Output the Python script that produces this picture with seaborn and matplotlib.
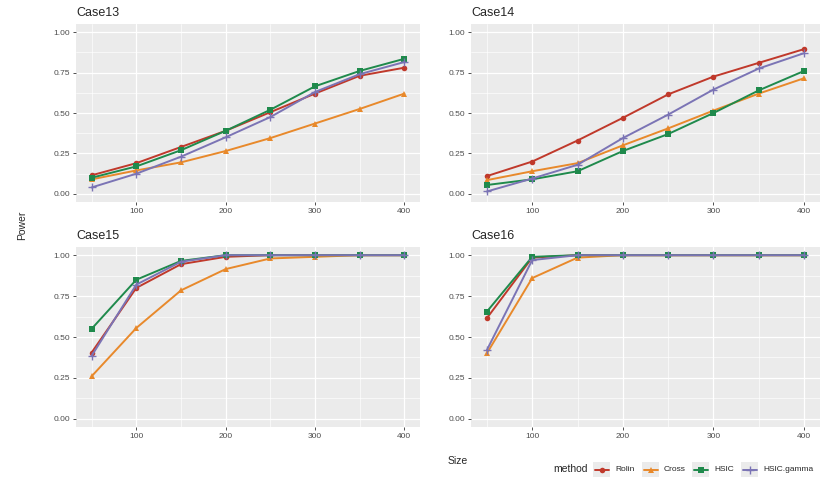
import pandas as pd
import matplotlib.pyplot as plt
import seaborn as sns
from matplotlib.patches import Rectangle
from matplotlib.lines import Line2D

# ----------------------------------------------------------------------------------------------
# Data
# ----------------------------------------------------------------------------------------------
sizes = [50, 100, 150, 200, 250, 300, 350, 400]
methods = ["Rolin", "Cross", "HSIC", "HSIC.gamma"]
cases = ["Case13", "Case14", "Case15", "Case16"]

case13_rolin = [0.115, 0.19, 0.29, 0.39, 0.505, 0.62, 0.73, 0.78]
case13_cross = [0.09, 0.145, 0.195, 0.265, 0.345, 0.435, 0.525, 0.62]
case13_hsic = [0.10, 0.17, 0.27, 0.39, 0.52, 0.665, 0.76, 0.835]
case13_gamma = [0.04, 0.125, 0.23, 0.35, 0.475, 0.63, 0.74, 0.815]

case14_rolin = [0.11, 0.20, 0.33, 0.47, 0.615, 0.725, 0.81, 0.895]
case14_cross = [0.085, 0.14, 0.19, 0.30, 0.405, 0.515, 0.62, 0.715]
case14_hsic = [0.055, 0.09, 0.14, 0.265, 0.37, 0.50, 0.64, 0.76]
case14_gamma = [0.015, 0.095, 0.18, 0.345, 0.49, 0.645, 0.775, 0.87]

case15_rolin = [0.405, 0.80, 0.945, 0.99, 1.0, 1.0, 1.0, 1.0]
case15_cross = [0.26, 0.555, 0.785, 0.915, 0.98, 0.99, 1.0, 1.0]
case15_hsic = [0.55, 0.85, 0.965, 1.0, 1.0, 1.0, 1.0, 1.0]
case15_gamma = [0.385, 0.82, 0.96, 1.0, 1.0, 1.0, 1.0, 1.0]

case16_rolin = [0.615, 0.985, 1.0, 1.0, 1.0, 1.0, 1.0, 1.0]
case16_cross = [0.40, 0.86, 0.985, 1.0, 1.0, 1.0, 1.0, 1.0]
case16_hsic = [0.655, 0.99, 1.0, 1.0, 1.0, 1.0, 1.0, 1.0]
case16_gamma = [0.42, 0.97, 1.0, 1.0, 1.0, 1.0, 1.0, 1.0]

power = {
    "Case13": [case13_rolin, case13_cross, case13_hsic, case13_gamma],
    "Case14": [case14_rolin, case14_cross, case14_hsic, case14_gamma],
    "Case15": [case15_rolin, case15_cross, case15_hsic, case15_gamma],
    "Case16": [case16_rolin, case16_cross, case16_hsic, case16_gamma],
}

rows = []
for case in cases:
    for m, vals in zip(methods, power[case]):
        for s, v in zip(sizes, vals):
            rows.append({"case": case, "method": m, "Size": s, "Power": v})
df = pd.DataFrame(rows)

colors = {"Rolin": "#C0392B", "Cross": "#E8892B", "HSIC": "#1F8A4C", "HSIC.gamma": "#7B74B5"}
markers = {"Rolin": "o", "Cross": "^", "HSIC": "s", "HSIC.gamma": "+"}

# ----------------------------------------------------------------------------------------------
# Figure (ggplot-like facets)
# ----------------------------------------------------------------------------------------------
sns.set_style("white")
plt.rcParams["font.family"] = ["Liberation Sans", "DejaVu Sans"]

W, H = 830, 490
fig = plt.figure(figsize=(W / 100, H / 100), dpi=100)

boxes = [(76, 420, 24, 202), (471, 820, 24, 202), (76, 420, 247, 427), (471, 820, 247, 427)]

for case, (l, r, t, b) in zip(cases, boxes):
    ax = fig.add_axes([l / W, 1 - b / H, (r - l) / W, (b - t) / H])
    ax.set_facecolor("#EBEBEB")
    ax.set_axisbelow(True)
    sub = df[df["case"] == case]
    for m in methods:
        d = sub[sub["method"] == m]
        mk = markers[m]
        sns.lineplot(data=d, x="Size", y="Power", color=colors[m], marker=mk,
                     markersize=4 if mk != "+" else 6, markeredgewidth=1 if mk == "+" else 0,
                     markeredgecolor=colors[m], linewidth=1.4, ax=ax, legend=False)
    ax.set_xlim(32.5, 417.5)
    ax.set_ylim(-0.05, 1.05)
    ax.set_xticks([100, 200, 300, 400])
    ax.set_xticks([50, 150, 250, 350], minor=True)
    ax.set_yticks([0, 0.25, 0.5, 0.75, 1.0])
    ax.set_yticks([0.125, 0.375, 0.625, 0.875], minor=True)
    ax.set_yticklabels(["0.00", "0.25", "0.50", "0.75", "1.00"])
    ax.grid(which="major", color="white", linewidth=0.9)
    ax.grid(which="minor", color="white", linewidth=0.45)
    ax.tick_params(which="major", length=2.5, width=0.6, color="#333333",
                   labelsize=6, labelcolor="#4D4D4D", pad=2, left=True, bottom=True)
    ax.tick_params(which="minor", length=0)
    for sp in ax.spines.values():
        sp.set_visible(False)
    ax.set_xlabel("")
    ax.set_ylabel("")
    ax.text(0, 1.03, case, transform=ax.transAxes, fontsize=9, ha="left", va="bottom")

fig.text(22 / W, 1 - 225 / H, "Power", rotation=90, fontsize=7.5, ha="center", va="center")
fig.text(458 / W, 1 - 461 / H, "Size", fontsize=7.5, ha="center", va="center")
fig.text(553 / W, 1 - 469 / H, "method", fontsize=7.5, ha="left", va="center")

# legend drawn by hand, ggplot style (grey key boxes, title on the left)
key_x = [593, 642, 692, 741]
for m, kx in zip(methods, key_x):
    fig.add_artist(Rectangle((kx / W, 1 - 477 / H), 17 / W, 15 / H,
                             transform=fig.transFigure, facecolor="#EBEBEB", edgecolor="none"))
    fig.add_artist(Line2D([(kx + 1.5) / W, (kx + 15.5) / W], [1 - 469.5 / H] * 2,
                          transform=fig.transFigure, color=colors[m], linewidth=1.4))
    mk = markers[m]
    fig.add_artist(Line2D([(kx + 8.5) / W], [1 - 469.5 / H], transform=fig.transFigure,
                          color=colors[m], marker=mk, markersize=4 if mk != "+" else 6,
                          markeredgewidth=1 if mk == "+" else 0, markeredgecolor=colors[m]))
    fig.text((kx + 22) / W, 1 - 469.5 / H, m, fontsize=6, ha="left", va="center")

plt.savefig("out.png", dpi=100)
plt.close()
